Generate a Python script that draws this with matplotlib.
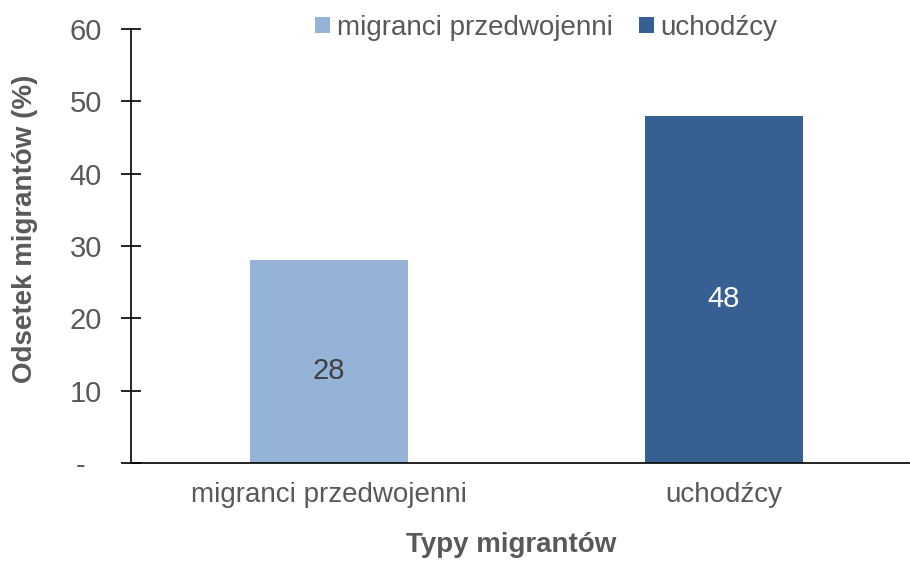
import matplotlib
matplotlib.use("Agg")
import matplotlib.pyplot as plt
from matplotlib.patches import Patch

categories = ["migranci przedwojenni", "uchodźcy"]
values = [28, 48]
colors = ["#95B3D7", "#366092"]
label_colors = ["#404040", "#FFFFFF"]
yticks = [0, 10, 20, 30, 40, 50, 60]
ytick_labels = ["-  ", "10", "20", "30", "40", "50", "60"]

plt.rcParams['font.family'] = ['Liberation Sans', 'DejaVu Sans']
gray = "#595959"

fig = plt.figure(figsize=(9.10, 5.81), dpi=100)
ax = fig.add_axes([131/910, 1-463/581, (921-131)/910, (463-29)/581])

x = list(range(len(categories)))
bars = ax.bar(x, values, width=0.4, color=colors, edgecolor="none", zorder=2)
for xi, v, lc in zip(x, values, label_colors):
    ax.text(xi, v/2 - 1.3, str(v), ha="center", va="center", color=lc, fontsize=21)

ax.set_xlim(-0.5, 1.5)
ax.set_ylim(0, 60)
ax.set_yticks(yticks)
ax.set_yticklabels(ytick_labels)
ax.set_xticks(x)
ax.set_xticklabels(categories)
ax.tick_params(axis="y", direction="inout", length=14, width=1.2, colors="black",
               labelcolor=gray, labelsize=21, pad=14)
ax.tick_params(axis="x", length=0, labelcolor=gray, labelsize=20, pad=14)
for s in ["top", "right"]:
    ax.spines[s].set_visible(False)
ax.spines["left"].set_linewidth(1.2)
ax.spines["bottom"].set_linewidth(1.2)

ax.set_ylabel("Odsetek migrantów (%)", fontsize=20, fontweight="bold", color=gray,
              va="center", ha="center")
ax.yaxis.set_label_coords((25-131)/790, (463-229)/434)
ax.set_xlabel("Typy migrantów", fontsize=20, fontweight="bold", color=gray,
              va="center", ha="center")
ax.xaxis.set_label_coords((511-131)/790, (463-545)/434)

handles = [Patch(facecolor=c, edgecolor="none") for c in colors]
leg = fig.legend(handles, categories, loc="center", bbox_to_anchor=(546.5/910, 1-28/581),
                 ncol=2, frameon=False, fontsize=20, handlelength=0.54, handleheight=0.54,
                 handletextpad=0.22, columnspacing=0.97, borderpad=0)
for t in leg.get_texts():
    t.set_color(gray)

fig.savefig("out.png", dpi=100)
